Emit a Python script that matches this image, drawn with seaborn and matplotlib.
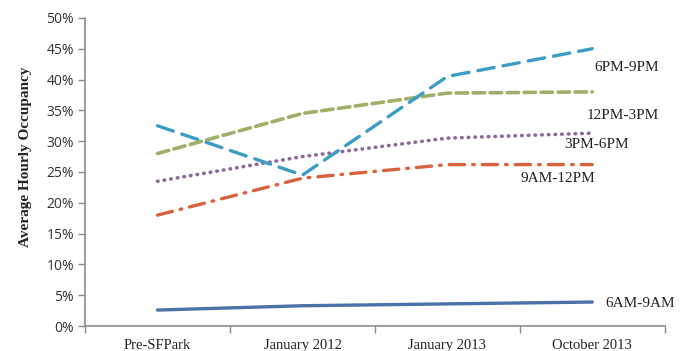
import matplotlib
matplotlib.use("Agg")
import matplotlib.pyplot as plt
from matplotlib.ticker import FixedLocator, FuncFormatter
import pandas as pd
import seaborn as sns

# Average hourly occupancy (%) by time band across study periods
periods = ["Pre-SFPark", "January 2012", "January 2013", "October 2013"]
band_6am_9am = [2.6, 3.3, 3.6, 3.9]
band_9am_12pm = [18.0, 24.0, 26.2, 26.2]
band_3pm_6pm = [23.5, 27.5, 30.5, 31.3]
band_12pm_3pm = [28.0, 34.5, 37.8, 38.0]
band_6pm_9pm = [32.5, 24.5, 40.5, 45.0]
y_ticks = [0, 5, 10, 15, 20, 25, 30, 35, 40, 45, 50]

series = {
    "6AM-9AM": band_6am_9am,
    "9AM-12PM": band_9am_12pm,
    "3PM-6PM": band_3pm_6pm,
    "12PM-3PM": band_12pm_3pm,
    "6PM-9PM": band_6pm_9pm,
}

styles = {
    "6AM-9AM": dict(color="#4A72A8", linestyle="-", lw=2.4),
    "9AM-12PM": dict(color="#D8623E", linestyle=(0, (4.6, 2.4, 0.5, 2.4)), lw=2.4),
    "3PM-6PM": dict(color="#8A6A98", linestyle=(0, (0.15, 1.7)), lw=2.6),
    "12PM-3PM": dict(color="#9EAF68", linestyle=(0, (3.2, 1.5)), lw=2.6),
    "6PM-9PM": dict(color="#3C9DC4", linestyle=(0, (5.0, 2.7)), lw=2.4),
}

# label anchor (x in category units, y in %)
label_pos = {
    "6PM-9PM": (3.24, 41.9),
    "12PM-3PM": (3.21, 34.1),
    "3PM-6PM": (3.03, 29.4),
    "9AM-12PM": (2.76, 24.0),
    "6AM-9AM": (3.33, 3.7),
}

df = pd.concat(
    [pd.DataFrame({"period": periods, "occupancy": vals, "band": name})
     for name, vals in series.items()],
    ignore_index=True,
)

sns.set_theme(style="white")
fig = plt.figure(figsize=(6.86, 3.51), dpi=100)
ax = fig.add_axes([0.124, 0.071, 0.845, 0.878])

for name in series:
    st = styles[name]
    sns.lineplot(
        data=df[df["band"] == name], x="period", y="occupancy", ax=ax,
        color=st["color"], linestyle=st["linestyle"], linewidth=st["lw"],
        dash_capstyle="round", solid_capstyle="round", sort=False,
        legend=False, errorbar=None,
    )

for name, (lx, ly) in label_pos.items():
    ax.text(lx, ly, name, ha="center", va="center", fontsize=11,
            family="Liberation Serif", color="#222222")

ax.set_xlim(-0.5, 3.5)
ax.set_ylim(0, 50)
ax.yaxis.set_major_locator(FixedLocator(y_ticks))
ax.yaxis.set_major_formatter(FuncFormatter(lambda v, p: f"{v:.0f}%"))
ax.set_xticks(range(len(periods)))
ax.set_xticklabels(periods, family="Liberation Serif", fontsize=10.5, color="#222222")
ax.xaxis.set_minor_locator(FixedLocator([-0.5, 0.5, 1.5, 2.5, 3.5]))
for lab in ax.get_yticklabels():
    lab.set_family("Open Sans")
    lab.set_fontsize(10)
    lab.set_color("#333333")

ax.tick_params(axis="x", which="major", length=0, pad=9)
ax.tick_params(axis="x", which="minor", length=5, width=1, color="#8C8C8C", bottom=True)
ax.tick_params(axis="y", which="major", length=5, width=1, color="#8C8C8C", left=True, pad=3)

for side in ["top", "right"]:
    ax.spines[side].set_visible(False)
for side in ["left", "bottom"]:
    ax.spines[side].set_color("#8C8C8C")
    ax.spines[side].set_linewidth(1.2)

ax.set_xlabel("")
ax.set_ylabel("Average Hourly Occupancy", family="Liberation Serif",
              fontweight="bold", fontsize=11, color="#222222", labelpad=10)
ax.yaxis.label.set_y(0.55)

fig.savefig("out.png", dpi=100)
